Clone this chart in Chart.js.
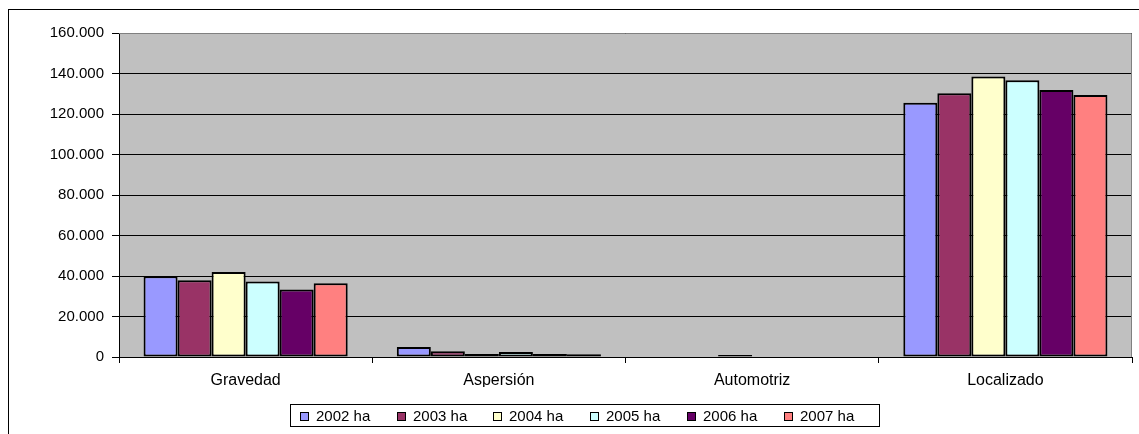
<!DOCTYPE html>
<html>
<head>
<meta charset="utf-8">
<script src="https://cdn.jsdelivr.net/npm/chart.js@4"></script>
<style>
  html, body { margin: 0; padding: 0; background: #ffffff; }
  #wrap { width: 1139px; height: 434px; }
</style>
</head>
<body>
<div id="wrap"><canvas id="myChart" width="1139" height="434"></canvas></div>
<script>
// categories and series (ha)
var categories = ['Gravedad', 'Aspersión', 'Automotriz', 'Localizado'];
var seriesNames = ['2002 ha', '2003 ha', '2004 ha', '2005 ha', '2006 ha', '2007 ha'];
var ha2002 = [39900, 4900, 0, 125500];
var ha2003 = [37900, 2800, 0, 130300];
var ha2004 = [42000, 1500, 1000, 138500];
var ha2005 = [37300, 2500, 0, 136700];
var ha2006 = [33300, 1500, 0, 131800];
var ha2007 = [36400, 1300, 0, 129400];
var yTicks = [0, 20000, 40000, 60000, 80000, 100000, 120000, 140000, 160000];

var colors = ['#9999FF', '#993366', '#FFFFCC', '#CCFFFF', '#660066', '#FF8080'];
var allSeries = [ha2002, ha2003, ha2004, ha2005, ha2006, ha2007];
var FONT = "'Liberation Sans', Arial, sans-serif";

function fmt(v) {
    return String(v).replace(/\B(?=(\d{3})+(?!\d))/g, '.');
}

// plot background, outer border and legend box
var excelLook = {
    id: 'excelLook',
    beforeDraw: function(chart) {
        var ctx = chart.ctx, a = chart.chartArea;
        ctx.save();
        ctx.fillStyle = '#ffffff';
        ctx.fillRect(0, 0, chart.width, chart.height);
        ctx.strokeStyle = '#000000';
        ctx.lineWidth = 1;
        ctx.strokeRect(8.5, 9.5, 1300, 600);
        ctx.fillStyle = '#C0C0C0';
        ctx.fillRect(a.left, a.top, a.right - a.left, a.bottom - a.top);
        ctx.restore();
    },
    beforeDatasetsDraw: function(chart) {
        var ctx = chart.ctx, a = chart.chartArea;
        ctx.save();
        ctx.strokeStyle = '#808080';
        ctx.lineWidth = 1;
        ctx.beginPath();
        ctx.moveTo(a.left, a.top + 0.5);
        ctx.lineTo(a.right - 0.5, a.top + 0.5);
        ctx.lineTo(a.right - 0.5, a.bottom);
        ctx.stroke();
        ctx.restore();
    },
    afterDraw: function(chart) {
        var ctx = chart.ctx;
        ctx.save();
        ctx.strokeStyle = '#000000';
        ctx.lineWidth = 1;
        ctx.strokeRect(290.5, 404.5, 589, 22);
        ctx.font = '15px ' + FONT;
        ctx.textBaseline = 'middle';
        ctx.textAlign = 'left';
        chart.data.datasets.forEach(function(ds, i) {
            var x = Math.round(300 + i * 96.7);
            ctx.fillStyle = ds.backgroundColor;
            ctx.fillRect(x + 0.5, 412.5, 8, 8);
            ctx.strokeRect(x + 0.5, 412.5, 8, 8);
            ctx.fillStyle = '#000000';
            ctx.fillText(ds.label, x + 16, 417);
        });
        ctx.restore();
    }
};

var datasets = seriesNames.map(function(name, i) {
    return {
        label: name,
        data: allSeries[i],
        backgroundColor: colors[i],
        borderColor: '#000000',
        borderWidth: 2,
        borderSkipped: false,
        categoryPercentage: 0.806,
        barPercentage: 1.0
    };
});

var ctx = document.getElementById('myChart').getContext('2d');
var myChart = new Chart(ctx, {
    type: 'bar',
    data: { labels: categories, datasets: datasets },
    options: {
        responsive: false,
        animation: false,
        events: [],
        layout: { padding: { left: 8, top: 33, right: 7, bottom: 47 } },
        plugins: {
            legend: { display: false },
            title: { display: false },
            tooltip: { enabled: false }
        },
        scales: {
            x: {
                afterFit: function(s) { s.height = 30; },
                grid: {
                    offset: true,
                    drawOnChartArea: false,
                    drawTicks: true,
                    tickLength: 6,
                    color: '#000000'
                },
                border: { color: '#000000', width: 1 },
                ticks: {
                    color: '#000000',
                    padding: 8,
                    font: { family: FONT, size: 16 }
                }
            },
            y: {
                min: 0,
                max: 160000,
                afterFit: function(s) { s.width = 111; },
                afterBuildTicks: function(s) {
                    s.ticks = yTicks.map(function(v) { return { value: v }; });
                },
                grid: {
                    color: '#000000',
                    tickLength: 7,
                    tickColor: '#000000'
                },
                border: { color: '#000000', width: 1 },
                ticks: {
                    color: '#000000',
                    padding: 8,
                    font: { family: FONT, size: 15 },
                    callback: function(v) { return fmt(v); }
                }
            }
        }
    },
    plugins: [excelLook]
});
</script>
</body>
</html>
